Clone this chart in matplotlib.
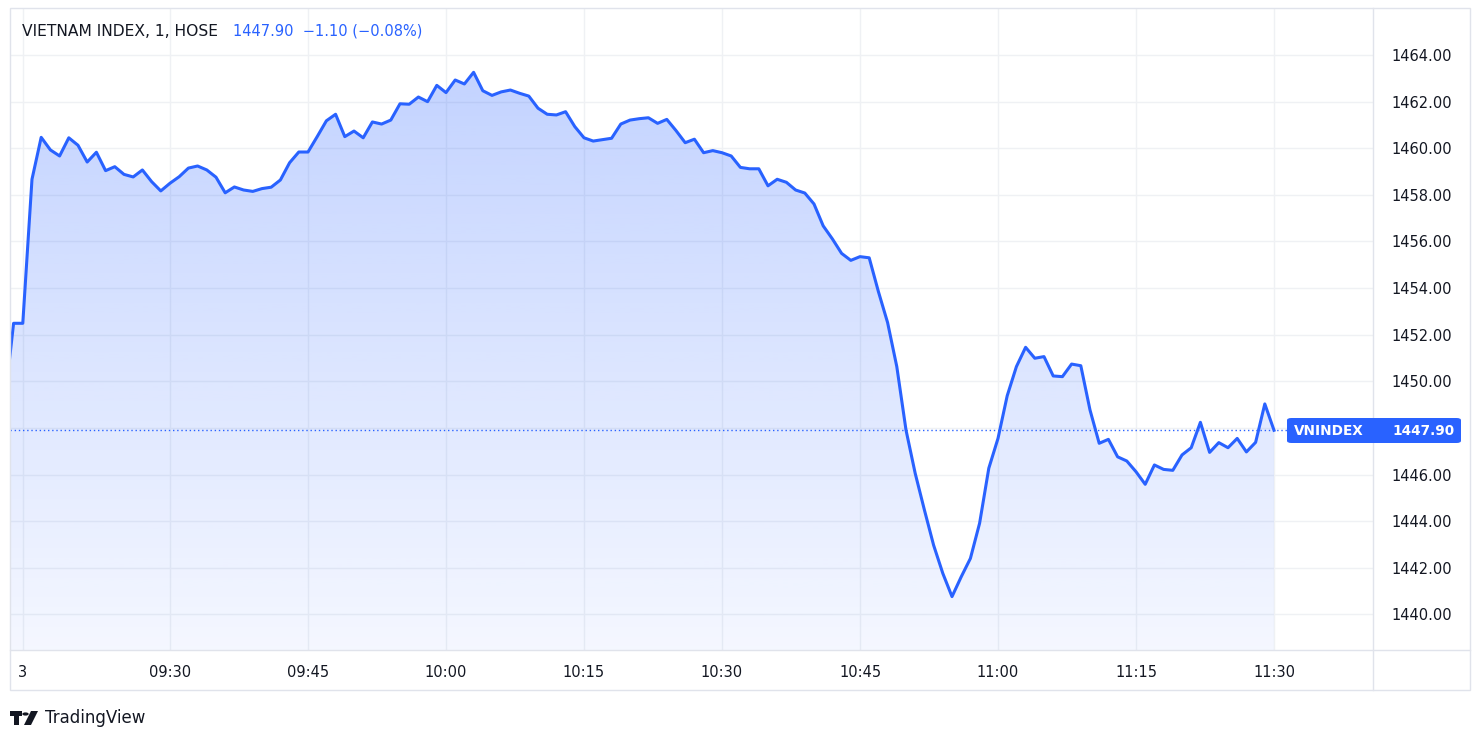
import numpy as np
import matplotlib.pyplot as plt
from matplotlib.patches import Rectangle, FancyBboxPatch, Circle, Polygon
from matplotlib.lines import Line2D

# 1-minute closes, first bar = 09:12 (prev. session close), minutes relative to 09:30
start_minute = -18
values = [
    1449.00, 1452.49, 1452.49, 1458.67, 1460.47, 1459.93, 1459.67, 1460.45, 1460.13, 1459.41,
    1459.83, 1459.04, 1459.21, 1458.88, 1458.77, 1459.07, 1458.57, 1458.17,
    1458.50, 1458.78, 1459.15, 1459.24, 1459.07, 1458.76, 1458.09, 1458.34, 1458.21, 1458.15,
    1458.27, 1458.33, 1458.64, 1459.38, 1459.84, 1459.84, 1460.50, 1461.18, 1461.46, 1460.50,
    1460.74, 1460.45, 1461.13, 1461.04, 1461.21, 1461.91, 1461.89, 1462.20, 1462.00, 1462.70,
    1462.39, 1462.93, 1462.76, 1463.26, 1462.47, 1462.27, 1462.42, 1462.50, 1462.36, 1462.24,
    1461.72, 1461.46, 1461.43, 1461.57, 1460.93, 1460.45, 1460.31, 1460.37, 1460.43, 1461.04,
    1461.21, 1461.27, 1461.31, 1461.07, 1461.24, 1460.76, 1460.24, 1460.39, 1459.81, 1459.90,
    1459.81, 1459.67, 1459.18, 1459.12, 1459.12, 1458.39, 1458.67, 1458.54, 1458.21, 1458.08,
    1457.61, 1456.67, 1456.11, 1455.49, 1455.19, 1455.35, 1455.30, 1453.85, 1452.52, 1450.63,
    1447.91, 1446.05, 1444.48, 1442.97, 1441.76, 1440.76, 1441.61, 1442.40, 1443.91, 1446.27,
    1447.55, 1449.38, 1450.63, 1451.46, 1450.99, 1451.06, 1450.23, 1450.20, 1450.74, 1450.67,
    1448.77, 1447.34, 1447.51, 1446.76, 1446.58, 1446.12, 1445.58, 1446.41, 1446.22, 1446.18,
    1446.84, 1447.15, 1448.24, 1446.95, 1447.37, 1447.15, 1447.55, 1446.97, 1447.38, 1449.03,
    1447.90,
]
minutes = np.arange(len(values)) + start_minute

tick_pos = [-16, 0, 15, 30, 45, 60, 75, 90, 105, 120]
tick_labels = ["3", "09:30", "09:45", "10:00", "10:15", "10:30", "10:45", "11:00", "11:15", "11:30"]
price_ticks = list(range(1440, 1465, 2))
last_price = 1447.90

BLUE = "#2962FF"
TXT = "#131722"
W, H = 1484, 745

def fx(x):
    return x / W

def fy(y):
    return 1 - y / H

fig = plt.figure(figsize=(W / 100, H / 100), dpi=100)
fig.patch.set_facecolor("white")

ax = fig.add_axes([fx(10), fy(650), fx(1373) - fx(10), fy(8) - fy(650)])
ax.set_facecolor("white")

x0, x1 = -17.39, 130.76
y0, y1 = 1438.47, 1466.02

# gradient area under the line
ymax = max(values)
a = np.linspace(0.28, 0.05, 256)
rgba = np.zeros((256, 1, 4))
rgba[..., 0] = 41 / 255
rgba[..., 1] = 98 / 255
rgba[..., 2] = 1.0
rgba[:, 0, 3] = a
im = ax.imshow(rgba, extent=[minutes[0], minutes[-1], y0, ymax], aspect="auto",
               origin="upper", zorder=1, interpolation="bilinear")
poly = ax.fill_between(minutes, values, y0, facecolor="none", edgecolor="none")
im.set_clip_path(poly.get_paths()[0], transform=ax.transData)

ax.plot(minutes, values, color=BLUE, lw=2.2, zorder=3, solid_joinstyle="round")
ax.axhline(last_price, color=BLUE, lw=1, linestyle=(0, (1, 2)), zorder=2)

ax.set_xlim(x0, x1)
ax.set_ylim(y0, y1)
ax.set_xticks(tick_pos)
ax.set_xticklabels(tick_labels)
ax.set_yticks(price_ticks)
ax.set_yticklabels([f"{p:.2f}" for p in price_ticks])
ax.yaxis.tick_right()
ax.tick_params(axis="both", length=0, labelsize=10.5, labelcolor=TXT)
ax.tick_params(axis="y", pad=13)
ax.tick_params(axis="x", pad=11)
ax.grid(True, color="#eff1f4", lw=1, zorder=0)
ax.set_axisbelow(True)
for s in ax.spines.values():
    s.set_visible(False)

# frame and axis separators
fig.add_artist(Rectangle((fx(10), fy(690)), fx(1470) - fx(10), fy(8) - fy(690),
                         transform=fig.transFigure, fill=False, edgecolor="#e0e3eb", lw=1))
fig.add_artist(Line2D([fx(1373), fx(1373)], [fy(8), fy(690)], transform=fig.transFigure,
                      color="#e0e3eb", lw=1))
fig.add_artist(Line2D([fx(10), fx(1470)], [fy(650), fy(650)], transform=fig.transFigure,
                      color="#e0e3eb", lw=1))

# last price label
box = FancyBboxPatch((fx(1287), fy(443)), fx(1461) - fx(1287), fy(418) - fy(443),
                     boxstyle="round,pad=0,rounding_size=0.003",
                     transform=fig.transFigure, facecolor=BLUE, edgecolor="none", zorder=5)
fig.add_artist(box)
fig.text(fx(1294), fy(431), "VNINDEX", color="white", fontsize=9.8, fontweight="bold",
         ha="left", va="center", zorder=6)
fig.text(fx(1455), fy(431), f"{last_price:.2f}", color="white", fontsize=9.8,
         fontweight="bold", ha="right", va="center", zorder=6)

# header
fig.text(fx(22), fy(31), "VIETNAM INDEX, 1, HOSE", color=TXT, fontsize=11.2, ha="left", va="center")
fig.text(fx(233), fy(31), "1447.90  \u22121.10 (\u22120.08%)", color=BLUE, fontsize=10.5,
         ha="left", va="center")

# TradingView logo
fig.add_artist(Rectangle((fx(10), fy(716)), fx(22) - fx(10), fy(711) - fy(716),
                         transform=fig.transFigure, color=TXT, lw=0))
fig.add_artist(Rectangle((fx(14), fy(725)), fx(19) - fx(14), fy(711) - fy(725),
                         transform=fig.transFigure, color=TXT, lw=0))
fig.add_artist(Circle((fx(25.5), fy(714)), 3.2 / W, transform=fig.transFigure, color=TXT, lw=0))
fig.add_artist(Polygon([(fx(31), fy(711)), (fx(38), fy(711)), (fx(31), fy(725)), (fx(24), fy(725))],
                       closed=True, transform=fig.transFigure, color=TXT, lw=0))
fig.text(fx(45), fy(718), "TradingView", color=TXT, fontsize=12, ha="left", va="center")

fig.savefig("out.png", dpi=100, facecolor="white")
